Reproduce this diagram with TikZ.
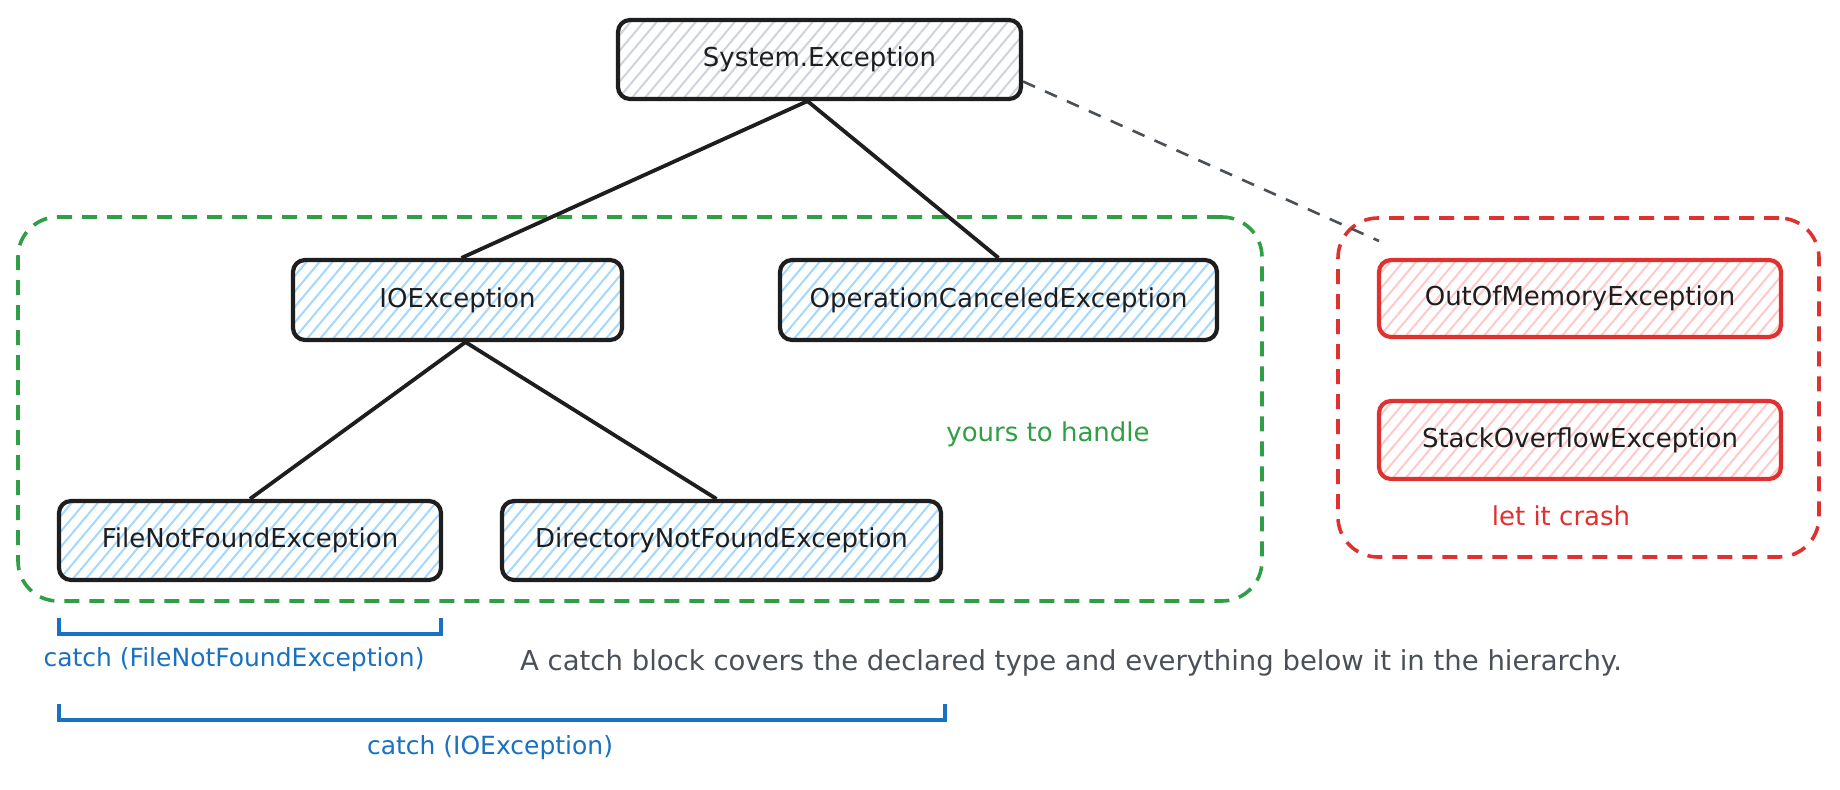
\documentclass[tikz,border=0pt]{standalone}
\usepackage{fontspec}
\setmainfont{DejaVu Sans}
\usetikzlibrary{calc}
\definecolor{ink}{HTML}{1E1E1E}
\definecolor{slate}{HTML}{495057}
\definecolor{hgray}{HTML}{CED4DA}
\definecolor{hblue}{HTML}{A5D8FF}
\definecolor{hred}{HTML}{FFC9C9}
\definecolor{xred}{HTML}{E03131}
\definecolor{xgreen}{HTML}{2F9E44}
\definecolor{xblue}{HTML}{1971C2}
\newcommand{\txtfont}{\fontsize{26}{31}\selectfont}
\newcommand{\smallfont}{\fontsize{25}{30}\selectfont}
\newcommand{\lblfont}{\fontsize{26}{31}\selectfont}
\tikzset{
  hatchfill/.style={path picture={
    \foreach \k in {-8,...,40}
      \draw[#1, line width=2pt] ([xshift=\k*13pt]path picture bounding box.south west) -- ++(50:200pt);
  }},
  exbox/.style={draw=ink, line width=4.2pt, rounded corners=12pt, font=\txtfont, text=ink, inner sep=0pt},
  container/.style={draw=#1, line width=3.6pt, rounded corners=40pt, dash pattern=on 15pt off 10pt, inner sep=0pt},
  tree/.style={draw=ink, line width=3.8pt},
  note/.style={font=\lblfont, inner sep=0pt},
  bracketline/.style={draw=xblue, line width=4pt},
}
\begin{document}
\begin{tikzpicture}[x=1pt, y=-1pt]
\useasboundingbox[fill=white] (0,0) rectangle (1840,790);
% containers
\node[container=xgreen, minimum width=1244pt, minimum height=384pt] (handle) at (640,409) {};
\node[container=xred, minimum width=481pt, minimum height=339pt] (crash) at (1578.5,387.5) {};
% boxes
\node[exbox, hatchfill=hgray, minimum width=403pt, minimum height=79pt] (sysex) at (819.5,59.5) {System.Exception};
\node[exbox, hatchfill=hblue, minimum width=329pt, minimum height=80pt] (io) at (457.5,300) {IOException};
\node[exbox, hatchfill=hblue, minimum width=437pt, minimum height=80pt] (opc) at (998.5,300) {OperationCanceledException};
\node[exbox, hatchfill=hblue, minimum width=382pt, minimum height=79pt] (fnf) at (250,540.5) {FileNotFoundException};
\node[exbox, hatchfill=hblue, minimum width=439pt, minimum height=79pt] (dnf) at (721.5,540.5) {DirectoryNotFoundException};
\node[exbox, draw=xred, hatchfill=hred, minimum width=402pt, minimum height=77pt] (oom) at (1580,298.5) {OutOfMemoryException};
\node[exbox, draw=xred, hatchfill=hred, minimum width=402pt, minimum height=78pt] (soe) at (1580,440) {StackOverflowException};
% connectors
\draw[tree] ([xshift=-12pt]sysex.south) -- ([xshift=4pt]io.north);
\draw[tree] ([xshift=-12pt]sysex.south) -- (opc.north);
\draw[tree] ([xshift=8pt]io.south) -- (fnf.north);
\draw[tree] ([xshift=8pt]io.south) -- ([xshift=-5pt]dnf.north);
\coordinate (dashend) at (1379,241);
\draw[slate, line width=2.6pt, dash pattern=on 13pt off 11pt] ([yshift=-22pt]sysex.east) -- (dashend);
% labels
\node[note, text=xgreen] (yourslbl) at (1048,434) {yours to handle};
\node[note, text=xred] (crashlbl) at (1561,516) {let it crash};
% brackets
\draw[bracketline] (59,618) -- (59,634) -- (441,634) -- (441,618);
\draw[bracketline] (59,704) -- (59,720) -- (945,720) -- (945,704);
\node[note, font=\smallfont, text=xblue] (fnflbl) at (234,660) {catch (FileNotFoundException)};
\node[note, font=\smallfont, text=xblue] (iolbl) at (490,748) {catch (IOException)};
\node[note, font=\fontsize{27.5}{32}\selectfont, text=slate, anchor=west] (caption) at (520,663) {A catch block covers the declared type and everything below it in the hierarchy.};
\end{tikzpicture}
\end{document}
